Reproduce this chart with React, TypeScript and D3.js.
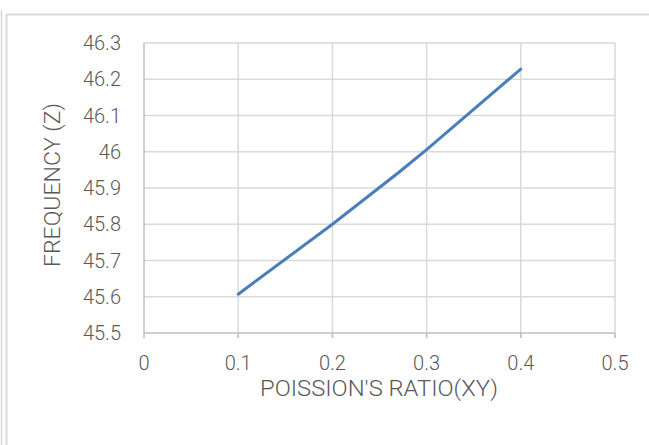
import React from "react";
import * as d3 from "d3";

const poissonRatio = [0.1, 0.2, 0.27, 0.3, 0.4];
const frequency = [45.607, 45.8, 45.942, 46.006, 46.228];
const xTicks = [0, 0.1, 0.2, 0.3, 0.4, 0.5];
const yTicks = [45.5, 45.6, 45.7, 45.8, 45.9, 46, 46.1, 46.2, 46.3];
const xTitle = "POISSION'S RATIO(XY)";
const yTitle = "FREQUENCY (Z)";

const W = 649;
const H = 445;
const plot = { left: 144, right: 615, top: 43, bottom: 333 };

export default function App() {
  const x = d3.scaleLinear().domain([0, 0.5]).range([plot.left, plot.right]);
  const y = d3.scaleLinear().domain([45.5, 46.3]).range([plot.bottom, plot.top]);
  const line = d3
    .line<number>()
    .x((_, i) => x(poissonRatio[i]))
    .y((d) => y(d));
  const font = "Roboto, 'Noto Sans', sans-serif";
  const textColor = "#595959";
  return (
    <svg
      width={W}
      height={H}
      style={{ position: "absolute", left: 0, top: 0, background: "#fff" }}
    >
      <rect x={0} y={0} width={W} height={H} fill="#fff" />
      {/* outer frames */}
      <line x1={1.5} y1={10} x2={1.5} y2={H} stroke="#d6d6d6" strokeWidth={1.5} />
      <line x1={6.5} y1={14.5} x2={W + 5} y2={14.5} stroke="#d9d9d9" strokeWidth={2} />
      <line x1={6.5} y1={14.5} x2={6.5} y2={H + 5} stroke="#d9d9d9" strokeWidth={2} />

      {/* gridlines */}
      {yTicks.slice(1).map((t) => (
        <line
          key={"gy" + t}
          x1={plot.left}
          x2={plot.right}
          y1={y(t)}
          y2={y(t)}
          stroke="#d9d9d9"
          strokeWidth={1.5}
        />
      ))}
      {xTicks.slice(1).map((t) => (
        <line
          key={"gx" + t}
          x1={x(t)}
          x2={x(t)}
          y1={plot.top}
          y2={plot.bottom + 5}
          stroke="#d9d9d9"
          strokeWidth={1.5}
        />
      ))}
      {/* axes */}
      <line x1={plot.left} x2={plot.right} y1={plot.bottom} y2={plot.bottom} stroke="#bfbfbf" strokeWidth={1.5} />
      <line x1={plot.left} x2={plot.left} y1={plot.top} y2={plot.bottom + 5} stroke="#bfbfbf" strokeWidth={1.5} />
      {xTicks.slice(1).map((t) => (
        <line key={"tx" + t} x1={x(t)} x2={x(t)} y1={plot.bottom} y2={plot.bottom + 5} stroke="#bfbfbf" strokeWidth={1.5} />
      ))}

      {/* y tick labels */}
      {yTicks.map((t) => (
        <text
          key={"ly" + t}
          x={121}
          y={y(t)}
          dy="0.36em"
          textAnchor="end"
          fontFamily={font}
          fontSize={20}
          fontWeight={300}
          fill={textColor}
        >
          {d3.format("")(+t.toFixed(1))}
        </text>
      ))}
      {/* x tick labels */}
      {xTicks.map((t) => (
        <text
          key={"lx" + t}
          x={x(t)}
          y={370}
          textAnchor="middle"
          fontFamily={font}
          fontSize={20}
          fontWeight={300}
          fill={textColor}
        >
          {d3.format("")(+t.toFixed(1))}
        </text>
      ))}

      {/* titles */}
      <text
        x={379}
        y={396}
        textAnchor="middle"
        fontFamily={font}
        fontSize={22}
        fontWeight={300}
        fill={textColor}
        textLength={238}
        lengthAdjust="spacingAndGlyphs"
      >
        {xTitle}
      </text>
      <text
        transform={`translate(60, 185) rotate(-90)`}
        textAnchor="middle"
        fontFamily={font}
        fontSize={22}
        fontWeight={300}
        fill={textColor}
        textLength={164}
        lengthAdjust="spacingAndGlyphs"
      >
        {yTitle}
      </text>

      {/* data line */}
      <path d={line(frequency) || ""} fill="none" stroke="#4a7ebb" strokeWidth={3} strokeLinejoin="round" strokeLinecap="round" />
    </svg>
  );
}
